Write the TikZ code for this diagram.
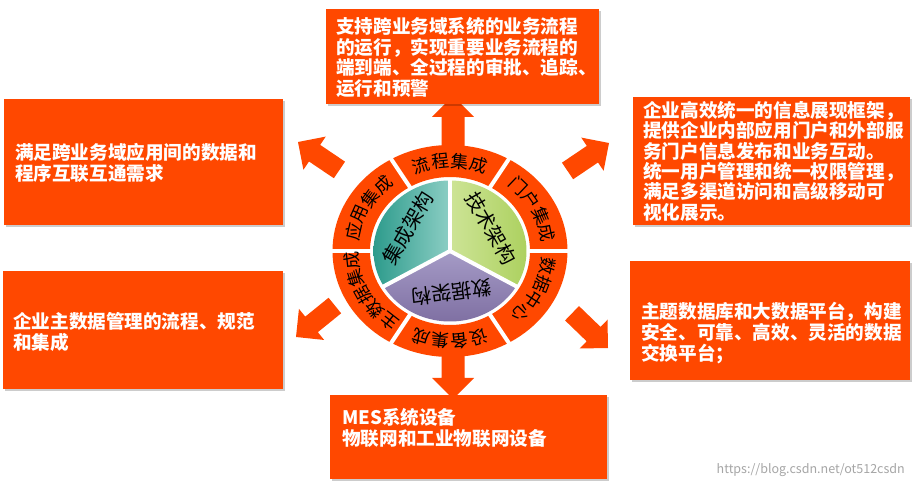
\documentclass[tikz,border=0pt]{standalone}
\usepackage{fontspec}
\newfontfamily\cjk{Noto Sans CJK SC}
\definecolor{org}{RGB}{255,72,0}
\definecolor{tealD}{RGB}{45,155,140}
\definecolor{tealL}{RGB}{140,206,196}
\definecolor{grnL}{RGB}{205,228,150}
\definecolor{grnD}{RGB}{168,206,88}
\definecolor{purL}{RGB}{165,155,198}
\definecolor{purD}{RGB}{122,106,158}
\newcommand\blockarrow[2]{\fill[arr, shift={#1}, rotate=#2] (0,0) -- (-20,20) -- (-20,10) -- (-50,10) -- (-50,-10) -- (-20,-10) -- (-20,-20) -- cycle;}
\begin{document}
\begin{tikzpicture}[x=1pt,y=1pt,
  arr/.style={fill=org},
  boxst/.style={fill=org},
  shadowst/.style={fill=black,opacity=0.2},
  boxtext/.style={anchor=base west, inner sep=0, text=white, font=\cjk\bfseries\fontsize{18.6}{20.5}\selectfont},
  ringtext/.style={inner sep=0, font=\cjk\fontsize{17.5}{17.5}\selectfont},
  pietext/.style={inner sep=0, font=\cjk\fontsize{20}{20}\selectfont},
  sep/.style={white, line width=4pt}]
\fill[white] (0,0) rectangle (916,487);
\useasboundingbox (0,0) rectangle (916,487);
\coordinate (C) at (450,236);
% diagonal arrows
\blockarrow{(298,345)}{146}
\blockarrow{(609,344)}{34}
\blockarrow{(296,150)}{219}
\blockarrow{(608,139)}{-44}
% vertical arrows
\fill[arr] (441.5,330) -- (441.5,370) -- (432,370) -- (453,391) -- (474,370) -- (464.5,370) -- (464.5,330) -- cycle;
\fill[arr] (441.5,140) -- (441.5,109) -- (432,109) -- (453,88) -- (474,109) -- (464.5,109) -- (464.5,140) -- cycle;
% ring
\fill[org, even odd rule] (C) ellipse [x radius=117.5, y radius=106] (C) ellipse [x radius=80, y radius=74];
\foreach \a in {0,60,...,300}
  \draw[sep] ({450+77*cos(\a)},{236+71*sin(\a)}) -- ({450+121*cos(\a)},{236+109*sin(\a)});
% pie
\shade[left color=tealD, right color=tealL] (C) -- ({450+76.5*cos(90)},{236+70.5*sin(90)}) arc[start angle=90, end angle=210, x radius=76.5, y radius=70.5] -- cycle;
\shade[left color=grnL, right color=grnD] (C) -- ({450+76.5*cos(-30)},{236+70.5*sin(-30)}) arc[start angle=-30, end angle=90, x radius=76.5, y radius=70.5] -- cycle;
\shade[top color=purL, bottom color=purD] (C) -- ({450+76.5*cos(210)},{236+70.5*sin(210)}) arc[start angle=210, end angle=330, x radius=76.5, y radius=70.5] -- cycle;
\foreach \a in {90,210,330}
  \draw[sep] (C) -- ({450+78*cos(\a)},{236+72*sin(\a)});
% ring labels
\foreach \ch/\tc/\n/\k [count=\j] in {流/90/4/1,程/90/4/2,集/90/4/3,成/90/4/4,
  门/29/4/1,户/29/4/2,集/29/4/3,成/29/4/4,
  数/-27/4/1,据/-27/4/2,中/-27/4/3,心/-27/4/4,
  设/-90/4/1,备/-90/4/2,集/-90/4/3,成/-90/4/4,
  主/-151/5/1,数/-151/5/2,据/-151/5/3,集/-151/5/4,成/-151/5/5,
  应/150/4/1,用/150/4/2,集/150/4/3,成/150/4/4}{
  \pgfmathsetmacro\a{\tc+((\n+1)/2-\k)*11.5}
  \node[ringtext, rotate=\a-90] (rc\j) at ({450+98.75*cos(\a)},{236+90*sin(\a)}) {\ch};
}
% pie labels
\node[pietext, rotate=60] (jicheng) at (408,259) {集成架构};
\node[pietext, rotate=-60] (jishu) at (491,259) {技术架构};
\node[pietext, rotate=188] (shuju) at (451.5,194.5) {数据架构};
% boxes
\foreach \x/\y/\X/\Y in {326/383/599/478, 633/262/910/390, 4/262/283/388, 3/98/283/216, 630/107/910/226, 330/8/607/92}{
  \fill[shadowst] (\x+2,\y-2) rectangle (\X+2,\Y-2);
  \fill[boxst] (\x,\y) rectangle (\X,\Y);
}
\foreach \l [count=\i] in {支持跨业务域系统的业务流程,的运行，实现重要业务流程的,端到端、全过程的审批、追踪、,运行和预警}
  \node[boxtext] (top\i) at (336,{453.3-(\i-1)*20.5}) {\l};
\foreach \l [count=\i] in {企业高效统一的信息展现框架，,提供企业内部应用门户和外部服,务门户信息发布和业务互动。,统一用户管理和统一权限管理，,满足多渠道访问和高级移动可,视化展示。}
  \node[boxtext] (ur\i) at (643,{369.3-(\i-1)*20.3}) {\l};
\foreach \l [count=\i] in {满足跨业务域应用间的数据和,程序互联互通需求}
  \node[boxtext] (ul\i) at (15,{327.7-(\i-1)*21}) {\l};
\foreach \l [count=\i] in {企业主数据管理的流程、规范,和集成}
  \node[boxtext] (ll\i) at (13,{158.3-(\i-1)*20.7}) {\l};
\foreach \l [count=\i] in {主题数据库和大数据平台，构建,安全、可靠、高效、灵活的数据,交换平台；}
  \node[boxtext] (lr\i) at (641,{168.3-(\i-1)*20.8}) {\l};
\foreach \l [count=\i] in {MES系统设备,物联网和工业物联网设备}
  \node[boxtext] (bt\i) at (342,{62.7-(\i-1)*21.7}) {\l};
\node[anchor=east, inner sep=0, text=black!35, font=\cjk\fontsize{12.5}{12.5}\selectfont] (wm) at (905,17) {https://blog.csdn.net/ot512csdn};
\end{tikzpicture}
\end{document}
